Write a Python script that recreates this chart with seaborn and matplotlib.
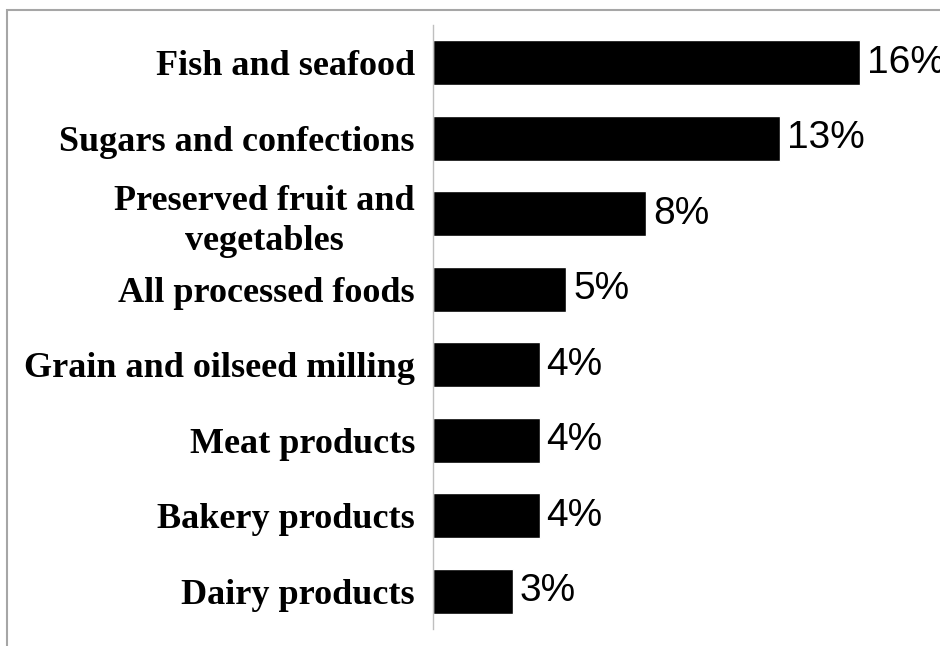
import matplotlib
matplotlib.use("Agg")
import matplotlib.pyplot as plt
import seaborn as sns
import pandas as pd
from matplotlib.patches import Rectangle

categories = ["Fish and seafood", "Sugars and confections", "Preserved fruit and\nvegetables",
              "All processed foods", "Grain and oilseed milling", "Meat products",
              "Bakery products", "Dairy products"]
values = [16, 13, 8, 5, 4, 4, 4, 3]
value_labels = ["16%", "13%", "8%", "5%", "4%", "4%", "4%", "3%"]

df = pd.DataFrame({"category": categories, "value": values})

sns.set_style("white")
W, H = 940, 646
fig = plt.figure(figsize=(W / 100, H / 100), dpi=100)
ax = fig.add_axes([433 / W, 1 - 629 / H, (937 - 433) / W, (629 - 25) / H])

sns.barplot(data=df, x="value", y="category", orient="h", color="black",
            saturation=1, width=0.6, ax=ax)

ax.set_xlim(0, 18.9)
ax.set_ylim(7.5, -0.5)
ax.set_xlabel("")
ax.set_ylabel("")
ax.set_xticks([])
for s in ["top", "right", "bottom"]:
    ax.spines[s].set_visible(False)
ax.spines["left"].set_color("#BFBFBF")
ax.spines["left"].set_linewidth(1.0)
ax.tick_params(axis="y", length=0, pad=13, colors="black")
for lab in ax.get_yticklabels():
    lab.set_fontfamily("Liberation Serif")
    lab.set_fontweight("bold")
    lab.set_fontsize(26)
    lab.set_color("black")
    lab.set_multialignment("center")
    lab.set_linespacing(1.3)

for i, (v, t) in enumerate(zip(values, value_labels)):
    ax.annotate(t, xy=(v, i), xytext=(5, 0), textcoords="offset points",
                ha="left", va="center", fontsize=28, family="Liberation Sans",
                color="black", annotation_clip=False)

fig.patches.append(Rectangle((7 / W, -0.1), 1.2, 1 - 10 / H + 0.1,
                             transform=fig.transFigure, fill=False,
                             edgecolor="#A6A6A6", linewidth=1.5, zorder=0))

fig.savefig("out.png", dpi=100)
